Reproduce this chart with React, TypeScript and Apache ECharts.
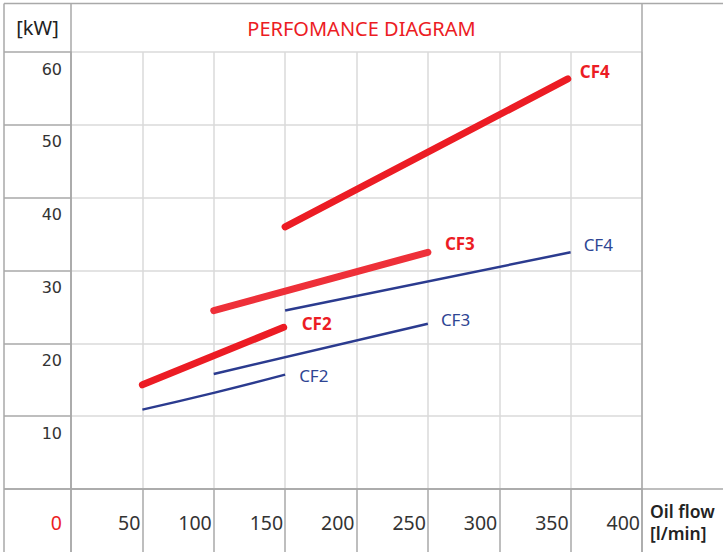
import React, { useEffect, useRef } from "react";
import * as echarts from "echarts";

const W = 723;
const H = 552;

const X_TICKS = [0, 50, 100, 150, 200, 250, 300, 350, 400];
const Y_TICKS = [0, 10, 20, 30, 40, 50, 60];

const redCF2 = [[50, 14.3], [149, 22.2]];
const redCF3 = [[100, 24.5], [250, 32.5]];
const redCF4 = [[150, 36], [348, 56.3]];
const blueCF2 = [[50, 10.9], [100, 13.2], [150, 15.7]];
const blueCF3 = [[100, 15.8], [250, 22.7]];
const blueCF4 = [[150, 24.5], [350, 32.5]];

const TITLE = "PERFOMANCE DIAGRAM";
const Y_UNIT = "[kW]";
const X_NAME = ["Oil flow", "[l/min]"];

const RED = "#ec1c24";
const RED2 = "#ee3039";
const BLUE = "#2b3b8f";
const BLUE_TXT = "#2e4593";
const DARK = "#a9a9a9";
const LIGHT = "#dadada";
const FONT = "'Noto Sans', sans-serif";
const FONT_Y = "'DejaVu Sans', sans-serif";

const GL = 71;
const GR = 642;
const GT = 52;
const GB = 489;
const TOP = 3.5;
const OUT_L = 4;

export default function App() {
  const ref = useRef<HTMLDivElement>(null);
  useEffect(() => {
    if (!ref.current) return;
    const chart = echarts.init(ref.current, null, { renderer: "svg" });
    const redLine = (name: string, data: number[][], color: string, off: number[]) => ({
      type: "line",
      name,
      data,
      showSymbol: false,
      smooth: true,
      lineStyle: { color, width: 7, cap: "round" },
      endLabel: {
        show: true,
        formatter: name,
        color: RED,
        fontWeight: "bold",
        fontSize: 17,
        fontFamily: FONT,
        offset: off,
      },
      z: 3,
    });
    const blueLine = (name: string, data: number[][], off: number[]) => ({
      type: "line",
      name,
      data,
      showSymbol: false,
      smooth: true,
      lineStyle: { color: BLUE, width: 2.5 },
      endLabel: {
        show: true,
        formatter: name,
        color: BLUE_TXT,
        fontSize: 17,
        fontFamily: FONT,
        offset: off,
      },
      z: 2,
    });
    const line = (x1: number, y1: number, x2: number, y2: number, c: string, w = 1.5) => ({
      type: "line",
      shape: { x1, y1, x2, y2 },
      style: { stroke: c, lineWidth: w },
      z: 1,
    });
    chart.setOption({
      animation: false,
      backgroundColor: "#ffffff",
      textStyle: { fontFamily: FONT },
      title: {
        text: TITLE,
        left: (GL + GR) / 2,
        top: 13,
        textAlign: "center",
        textStyle: { color: RED, fontSize: 20, fontWeight: "normal", fontFamily: FONT },
      },
      grid: { left: GL, right: W - GR, top: GT, bottom: H - GB, containLabel: false },
      xAxis: {
        type: "value",
        min: 0,
        max: 400,
        interval: 50,
        axisLine: { show: true, lineStyle: { color: DARK, width: 1.5 } },
        axisTick: { show: true, inside: false, length: H - GB, lineStyle: { color: DARK, width: 1.5 } },
        splitLine: { show: true, lineStyle: { color: LIGHT, width: 1.5 } },
        axisLabel: {
          margin: 23,
          align: "right",
          padding: [0, 2, 0, 0],
          fontSize: 19.5,
          color: "#333",
          fontFamily: FONT,
          formatter: (v: number) => (v === 0 ? "{z|" + X_TICKS[0] + "}" : String(v)),
          rich: { z: { color: RED, fontSize: 19.5, padding: [0, 7, 0, 0], fontFamily: FONT } },
        },
      },
      yAxis: {
        type: "value",
        min: 0,
        max: 60,
        interval: 10,
        axisLine: { show: true, lineStyle: { color: DARK, width: 1.5 } },
        axisTick: { show: true, length: GL - OUT_L, lineStyle: { color: DARK, width: 1.5 } },
        splitLine: { show: true, lineStyle: { color: LIGHT, width: 1.5 } },
        axisLabel: {
          margin: 9,
          verticalAlign: "top",
          padding: [9, 0, 0, 0],
          fontSize: 16,
          color: "#333",
          fontFamily: FONT_Y,
          formatter: (v: number) => (v === Y_TICKS[0] ? "" : String(v)),
        },
      },
      graphic: [
        line(OUT_L, TOP, W, TOP, DARK, 1.5),
        line(OUT_L, TOP, OUT_L, H, DARK, 1.5),
        line(GL, TOP, GL, H, DARK, 1.5),
        line(GR, TOP, GR, H, DARK, 1.5),
        line(OUT_L, GB, W, GB, DARK, 1.5),
        {
          type: "text",
          x: (OUT_L + GL) / 2,
          y: (TOP + GT) / 2,
          style: { text: Y_UNIT, fill: "#222", fontSize: 20, fontFamily: FONT, align: "center", verticalAlign: "middle" },
        },
        {
          type: "text",
          x: GR + 8,
          y: 511,
          style: { text: X_NAME[0], fill: "#222", fontSize: 17.5, lineHeight: 18, fontWeight: 600, fontFamily: FONT, align: "left", verticalAlign: "middle" },
        },
        {
          type: "text",
          x: GR + 8,
          y: 533,
          style: { text: X_NAME[1], fill: "#222", fontSize: 17.5, lineHeight: 18, fontWeight: 600, fontFamily: FONT, align: "left", verticalAlign: "middle" },
        },
      ],
      series: [
        blueLine("CF2", blueCF2, [6, 1]),
        blueLine("CF3", blueCF3, [5, -4]),
        blueLine("CF4", blueCF4, [5, -8]),
        redLine("CF2", redCF2, RED, [10, -4]),
        redLine("CF3", redCF3, RED2, [9, -9]),
        redLine("CF4", redCF4, RED, [4, -7]),
      ],
    });
    return () => chart.dispose();
  }, []);
  return (
    <div
      ref={ref}
      style={{ position: "absolute", left: 0, top: 0, width: W, height: H }}
    />
  );
}
